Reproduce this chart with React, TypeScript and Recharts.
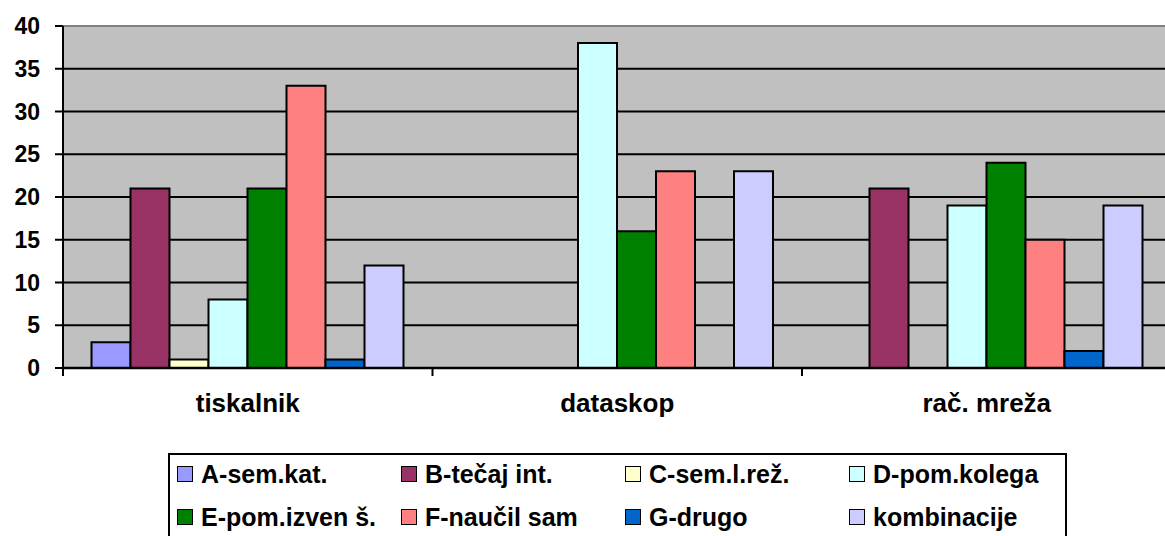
import React from 'react';
import { BarChart, Bar, XAxis, YAxis, CartesianGrid, Legend, ReferenceLine } from 'recharts';

const categories = ['tiskalnik', 'dataskop', 'rač. mreža'];
const seriesNames = ['A-sem.kat.', 'B-tečaj int.', 'C-sem.l.rež.', 'D-pom.kolega', 'E-pom.izven š.', 'F-naučil sam', 'G-drugo', 'kombinacije'];
const seriesColors = ['#9999FF', '#993366', '#FFFFCC', '#CCFFFF', '#008000', '#FF8080', '#0066CC', '#CCCCFF'];
const valuesA = [3, 0, 0];
const valuesB = [21, 0, 21];
const valuesC = [1, 0, 0];
const valuesD = [8, 38, 19];
const valuesE = [21, 16, 24];
const valuesF = [33, 23, 15];
const valuesG = [1, 0, 2];
const valuesK = [12, 23, 19];
const yTicks = [0, 5, 10, 15, 20, 25, 30, 35, 40];
const gridValues = [5, 10, 15, 20, 25, 30, 35];

const seriesValues = [valuesA, valuesB, valuesC, valuesD, valuesE, valuesF, valuesG, valuesK];
const keys = seriesNames.map((_, i) => 's' + i);
const data = categories.map((c, ci) => {
  const row: any = { name: c };
  keys.forEach((k, si) => { row[k] = seriesValues[si][ci]; });
  return row;
});

const FONT = 'Arial, "Liberation Sans", sans-serif';

const XTick = (props: any) => {
  const { x, y, payload } = props;
  const off = payload && payload.offset ? payload.offset : 0;
  return (
    <g>
      <line x1={x - off} y1={y - 8} x2={x - off} y2={y} stroke="#000" strokeWidth={2} />
      <text x={x} y={y + 18} dy="0.71em" textAnchor="middle" fontFamily={FONT} fontWeight="bold" fontSize={26} fill="#000">
        {payload.value}
      </text>
    </g>
  );
};

const LegendContent = () => (
  <div style={{ position: 'relative', width: 899, height: 85, border: '2px solid #000', boxSizing: 'border-box', background: '#fff' }}>
    {seriesNames.map((n, i) => {
      const col = i % 4;
      const row = Math.floor(i / 4);
      return (
        <div key={n} style={{ position: 'absolute', left: 7 + col * 224, top: 5 + row * 43, height: 28, display: 'flex', alignItems: 'center', whiteSpace: 'nowrap' }}>
          <div style={{ width: 14, height: 14, background: seriesColors[i], border: '1.5px solid #000', marginRight: 8 }} />
          <span style={{ fontFamily: FONT, fontWeight: 'bold', fontSize: 25, color: '#000', lineHeight: '28px' }}>{n}</span>
        </div>
      );
    })}
  </div>
);

export default function App() {
  return (
    <div style={{ position: 'absolute', left: 0, top: 0, width: 1165, height: 536, overflow: 'hidden', background: '#fff' }}>
      <BarChart width={1185} height={536} data={data} margin={{ top: 26, right: 13.5, left: 0, bottom: 0 }} barCategoryGap={28.5} barGap={0}>
        <CartesianGrid vertical={false} horizontalValues={gridValues} stroke="#000" strokeWidth={2} fill="#C0C0C0" fillOpacity={1} />
        <ReferenceLine y={40} stroke="#808080" strokeWidth={2} />
        <XAxis dataKey="name" height={168} tickLine={false} tickSize={8} tickMargin={0} axisLine={{ stroke: '#000', strokeWidth: 2.5 }} tick={<XTick />} interval={0} />
        <YAxis width={63} domain={[0, 40]} ticks={yTicks} interval={0} tickSize={8} tickMargin={15}
          axisLine={{ stroke: '#000', strokeWidth: 2 }} tickLine={{ stroke: '#000', strokeWidth: 2 }}
          tick={{ fontFamily: FONT, fontWeight: 'bold', fontSize: 23, fill: '#000' }} />
        {keys.map((k, i) => (
          <Bar key={k} dataKey={k} name={seriesNames[i]} fill={seriesColors[i]} stroke="#000" strokeWidth={2} isAnimationActive={false} />
        ))}
        <Legend verticalAlign="middle" align="center" layout="horizontal" content={<LegendContent />}
          wrapperStyle={{ left: 168, top: 453, width: 899, height: 85 }} />
      </BarChart>
    </div>
  );
}
